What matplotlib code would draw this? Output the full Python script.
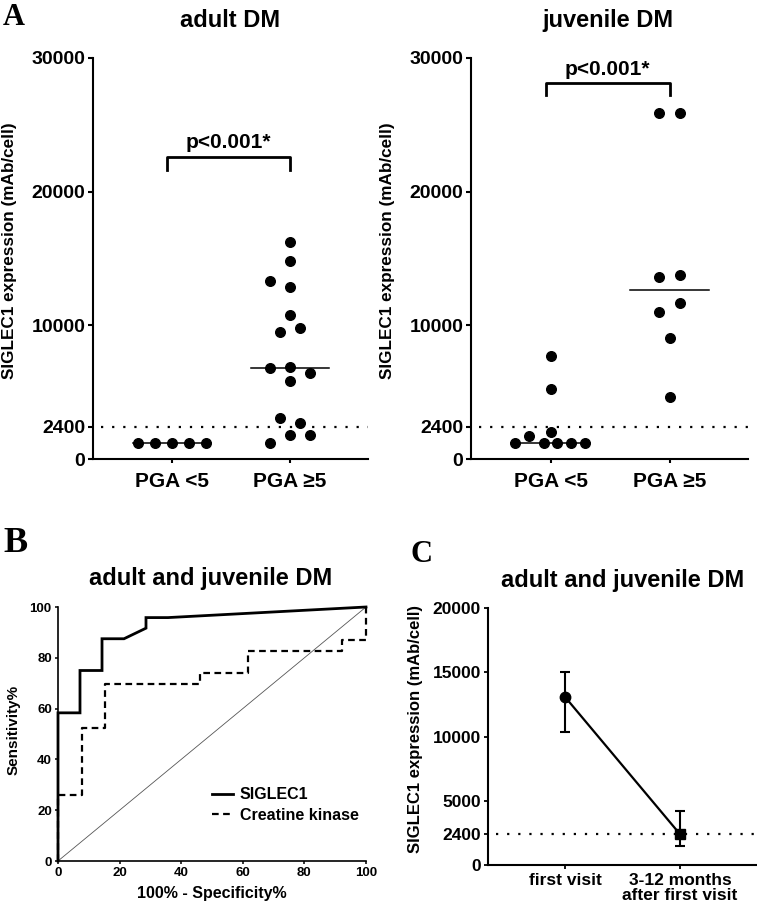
import matplotlib.pyplot as plt
import numpy as np

plt.rcParams['font.family'] = ['Liberation Sans', 'DejaVu Sans']
plt.rcParams['font.weight'] = 'bold'
plt.rcParams['axes.labelweight'] = 'bold'

# --- data ---------------------------------------------------------------
groups_A = ['PGA <5', 'PGA ≥5']
cutoff = 2400

# adult DM (SIGLEC1, mAb/cell)
adult_low = [1200, 1200, 1200, 1200, 1200]
adult_high = [16270, 14780, 13280, 12850, 10760, 9530, 9780, 6790,
              6860, 6410, 5840, 3100, 2670, 1770, 1770, 1170]
# juvenile DM
juv_low = [7710, 5220, 2050, 1750, 1200, 1200, 1200, 1200, 1200]
juv_high = [25880, 25880, 13580, 13780, 11030, 11700, 9080, 4670]

# horizontal spread of the dots (swarm layout)
adult_low_dx = [-0.29, -0.145, 0, 0.145, 0.29]
adult_high_dx = [0, 0, -0.17, 0, 0, -0.085, 0.085, -0.17,
                 0, 0.17, 0, -0.085, 0.085, 0, 0.17, -0.17]
juv_low_dx = [0, 0, 0, -0.18, -0.30, -0.06, 0.057, 0.17, 0.29]
juv_high_dx = [-0.085, 0.085, -0.085, 0.085, -0.085, 0.085, 0, 0]

# ROC curves (100% - specificity, sensitivity)
siglec_fpr = [0, 0, 7.14, 7.14, 14.29, 14.29, 21.43, 28.57, 28.57, 35.71, 100]
siglec_tpr = [0, 58.33, 58.33, 75, 75, 87.5, 87.5, 91.67, 95.83, 95.83, 100]
ck_fpr = [0, 0, 7.69, 7.69, 15.38, 15.38, 46.15, 46.15, 61.54, 61.54,
          92.31, 92.31, 100, 100]
ck_tpr = [0, 26.09, 26.09, 52.17, 52.17, 69.57, 69.57, 73.91, 73.91, 82.61,
          82.61, 86.96, 86.96, 100]

# follow-up
visits = ['first visit', '3-12 months\nafter first visit']
visit_mean = [13080, 2400]
visit_low = [10360, 1480]
visit_high = [15040, 4200]

# --- figure -------------------------------------------------------------
fig = plt.figure(figsize=(7.57, 9.05), dpi=100)
W, H = 757.0, 905.0


def box(x0, y0, x1, y1):
    return [x0 / W, 1 - y1 / H, (x1 - x0) / W, (y1 - y0) / H]


def dot_panel(ax, data, offs, ptext_y, bracket_y):
    for i, (vals, dx) in enumerate(zip(data, offs)):
        xs = np.array(dx) + i + 1
        ax.scatter(xs, vals, s=48, color='black', zorder=3, clip_on=False)
        med = np.median(vals)
        ax.plot([i + 1 - 0.33, i + 1 + 0.33], [med, med], color='black', lw=1.1)
    ax.plot([0.4, 2.66], [cutoff, cutoff], color='black', lw=1.6,
            linestyle=(0, (1, 4)))
    ax.set_xlim(0.33, 2.66)
    ax.set_ylim(0, 30000)
    ax.set_yticks([0, 2400, 10000, 20000, 30000])
    ax.set_xticks([1, 2])
    ax.set_xticklabels(groups_A, fontsize=15)
    ax.tick_params(axis='y', labelsize=14, length=3.6, width=1.5, pad=2)
    ax.tick_params(axis='x', length=3, width=1.5, pad=6)
    for s in ['top', 'right']:
        ax.spines[s].set_visible(False)
    for s in ['left', 'bottom']:
        ax.spines[s].set_linewidth(1.5)
    ax.set_ylabel('SIGLEC1 expression (mAb/cell)', fontsize=12.3)
    ax.yaxis.set_label_coords(-0.275, 0.52)
    # significance bracket
    top, arm = bracket_y
    ax.plot([0.96, 0.96, 2.0, 2.0], [arm, top, top, arm], color='black',
            lw=2, clip_on=False)
    ax.text(1.48, ptext_y, 'p<0.001*', ha='center', va='baseline',
            fontsize=15)


ax1 = fig.add_axes(box(93, 58, 368, 459))
dot_panel(ax1, [adult_low, adult_high], [adult_low_dx, adult_high_dx],
          23270, (22600, 21620))
fig.text(230 / W, 1 - 27 / H, 'adult DM', ha='center', va='baseline',
         fontsize=17)

ax2 = fig.add_axes(box(471, 58, 748, 459))
dot_panel(ax2, [juv_low, juv_high], [juv_low_dx, juv_high_dx],
          28730, (28110, 27230))
fig.text(608 / W, 1 - 27 / H, 'juvenile DM', ha='center', va='baseline',
         fontsize=17)

# ROC panel
ax3 = fig.add_axes(box(58, 607, 366, 861))
ax3.plot([0, 100], [0, 100], color='#555555', lw=0.6)
ax3.plot(siglec_fpr, siglec_tpr, color='black', lw=2, label='SIGLEC1',
         clip_on=False, solid_joinstyle='miter')
ax3.plot(ck_fpr, ck_tpr, color='black', lw=1.6, linestyle=(0, (3, 2)),
         label='Creatine kinase', clip_on=False)
ax3.set_xlim(0, 100)
ax3.set_ylim(0, 100)
ax3.set_xticks(range(0, 101, 20))
ax3.set_yticks(range(0, 101, 20))
ax3.tick_params(labelsize=9.5, length=2.5, width=1.1, pad=2)
for s in ['top', 'right']:
    ax3.spines[s].set_visible(False)
for s in ['left', 'bottom']:
    ax3.spines[s].set_linewidth(1.2)
ax3.set_xlabel('100% - Specificity%', fontsize=11.5)
ax3.xaxis.set_label_coords(0.5, -0.10)
ax3.set_ylabel('Sensitivity%', fontsize=11)
ax3.yaxis.set_label_coords(-0.12, 0.516)
ax3.legend(loc='upper left', bbox_to_anchor=(0.50, 0.29), frameon=False,
           fontsize=11.5, handlelength=1.3, handletextpad=0.45,
           labelspacing=0.35, borderpad=0, borderaxespad=0)
fig.text(211 / W, 1 - 585 / H, 'adult and juvenile DM', ha='center',
         va='baseline', fontsize=17)

# follow-up panel
ax4 = fig.add_axes(box(488, 608, 757, 865))
xv = np.arange(1, len(visits) + 1)
ax4.plot([0.4, 2.67], [cutoff, cutoff], color='black', lw=1.6,
         linestyle=(0, (1, 4)))
ax4.plot(xv, visit_mean, color='black', lw=1.6)
yerr = [np.array(visit_mean) - np.array(visit_low),
        np.array(visit_high) - np.array(visit_mean)]
ax4.errorbar(xv, visit_mean, yerr=yerr, fmt='none', ecolor='black',
             elinewidth=1.5, capsize=3.5, capthick=1.5)
for x, y, m in zip(xv, visit_mean, ['o', 's']):
    ax4.plot(x, y, marker=m, color='black', markersize=7.5, zorder=4)
ax4.set_xlim(0.33, 2.67)
ax4.set_ylim(0, 20000)
ax4.set_yticks([0, 2400, 5000, 10000, 15000, 20000])
ax4.set_xticks(xv)
ax4.set_xticklabels(visits, fontsize=12.5, linespacing=0.95)
ax4.tick_params(axis='y', labelsize=12.5, length=3, width=1.3, pad=2)
ax4.tick_params(axis='x', length=3, width=1.3, pad=3)
for s in ['top', 'right']:
    ax4.spines[s].set_visible(False)
for s in ['left', 'bottom']:
    ax4.spines[s].set_linewidth(1.5)
ax4.set_ylabel('SIGLEC1 expression (mAb/cell)', fontsize=12)
ax4.yaxis.set_label_coords(-0.243, 0.53)
fig.text(623 / W, 1 - 587 / H, 'adult and juvenile DM', ha='center',
         va='baseline', fontsize=17)

# panel letters
for lbl, x, y, fs in [('A', 3, 25, 22), ('B', 3, 552, 26), ('C', 411, 562, 22)]:
    fig.text(x / W, 1 - y / H, lbl, family='Liberation Serif',
             fontweight='bold', fontsize=fs, va='baseline')

fig.savefig('out.png', dpi=100)
